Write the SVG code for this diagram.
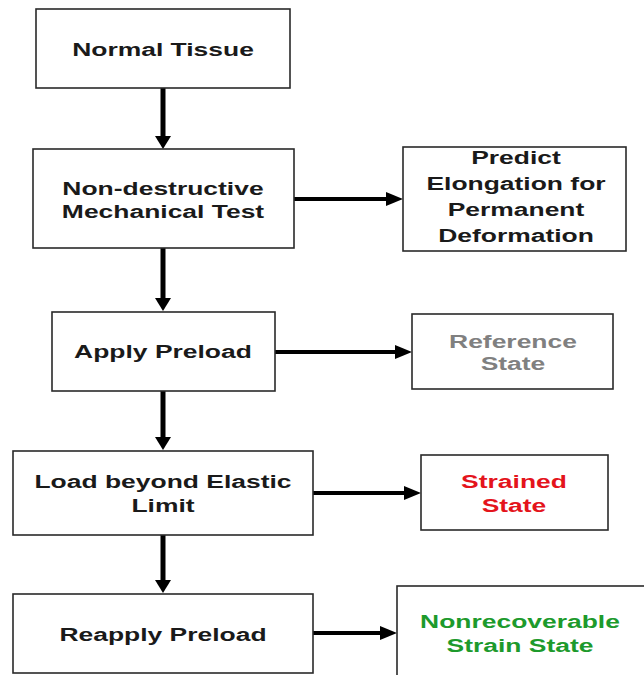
<svg xmlns="http://www.w3.org/2000/svg" width="644" height="675" viewBox="0 0 644 675">
<style>
.box{fill:#fff;stroke:#2a2a2a;stroke-width:1.6}
.t{font-family:"Liberation Sans",Arial,sans-serif;font-weight:bold;font-size:18px;text-anchor:middle;fill:#1a1a1a}
.gray{fill:#808080}.red{fill:#e4141c}.green{fill:#1d9a2c}
.v{stroke:#000;stroke-width:5;fill:none;marker-end:url(#mv)}
.h{stroke:#000;stroke-width:4;fill:none;marker-end:url(#mh)}
</style>
<defs>
<marker id="mv" markerUnits="userSpaceOnUse" viewBox="0 0 13 16" refX="0" refY="8" markerWidth="13" markerHeight="16" orient="auto"><path d="M0,0 L13,8 L0,16 z" fill="#000"/></marker>
<marker id="mh" markerUnits="userSpaceOnUse" viewBox="0 0 17 14" refX="0" refY="7" markerWidth="17" markerHeight="14" orient="auto"><path d="M0,0 L17,7 L0,14 z" fill="#000"/></marker>
</defs>
<rect width="644" height="675" fill="#fff"/>
<g id="connectors">
<line class="v" x1="163" y1="88" x2="163" y2="136"/>
<line class="v" x1="163" y1="248" x2="163" y2="298"/>
<line class="v" x1="163" y1="391" x2="163" y2="437"/>
<line class="v" x1="163" y1="535" x2="163" y2="580"/>
<line class="h" x1="294" y1="199" x2="386" y2="199"/>
<line class="h" x1="275" y1="352" x2="395" y2="352"/>
<line class="h" x1="313" y1="493" x2="404" y2="493"/>
<line class="h" x1="313" y1="633" x2="380" y2="633"/>
</g>
<g id="normal-tissue">
<rect class="box" x="36" y="9" width="254" height="79"/>
<text class="t" transform="translate(163,56) scale(1.47,1)">Normal Tissue</text>
</g>
<g id="non-destructive">
<rect class="box" x="33" y="149" width="261" height="99"/>
<text class="t" transform="translate(163,195) scale(1.47,1)">Non-destructive</text>
<text class="t" transform="translate(163,218) scale(1.47,1)">Mechanical Test</text>
</g>
<g id="predict">
<rect class="box" x="403" y="147" width="223" height="104"/>
<text class="t" transform="translate(516,164) scale(1.47,1)">Predict</text>
<text class="t" transform="translate(516,190) scale(1.47,1)">Elongation for</text>
<text class="t" transform="translate(516,216) scale(1.47,1)">Permanent</text>
<text class="t" transform="translate(516,242) scale(1.47,1)">Deformation</text>
</g>
<g id="apply-preload">
<rect class="box" x="52" y="312" width="223" height="79"/>
<text class="t" transform="translate(163,358) scale(1.47,1)">Apply Preload</text>
</g>
<g id="reference-state">
<rect class="box" x="412" y="314" width="201" height="75"/>
<text class="t gray" transform="translate(513,348) scale(1.47,1)">Reference</text>
<text class="t gray" transform="translate(513,370) scale(1.47,1)">State</text>
</g>
<g id="load-beyond">
<rect class="box" x="13" y="451" width="300" height="84"/>
<text class="t" transform="translate(163,488) scale(1.47,1)">Load beyond Elastic</text>
<text class="t" transform="translate(163,512) scale(1.47,1)">Limit</text>
</g>
<g id="strained-state">
<rect class="box" x="421" y="455" width="187" height="75"/>
<text class="t red" transform="translate(514,488) scale(1.47,1)">Strained</text>
<text class="t red" transform="translate(514,512) scale(1.47,1)">State</text>
</g>
<g id="reapply-preload">
<rect class="box" x="13" y="594" width="300" height="79"/>
<text class="t" transform="translate(163,641) scale(1.47,1)">Reapply Preload</text>
</g>
<g id="nonrecoverable">
<rect class="box" x="397" y="586" width="250" height="95"/>
<text class="t green" transform="translate(520,628) scale(1.47,1)">Nonrecoverable</text>
<text class="t green" transform="translate(520,652) scale(1.47,1)">Strain State</text>
</g>
</svg>
